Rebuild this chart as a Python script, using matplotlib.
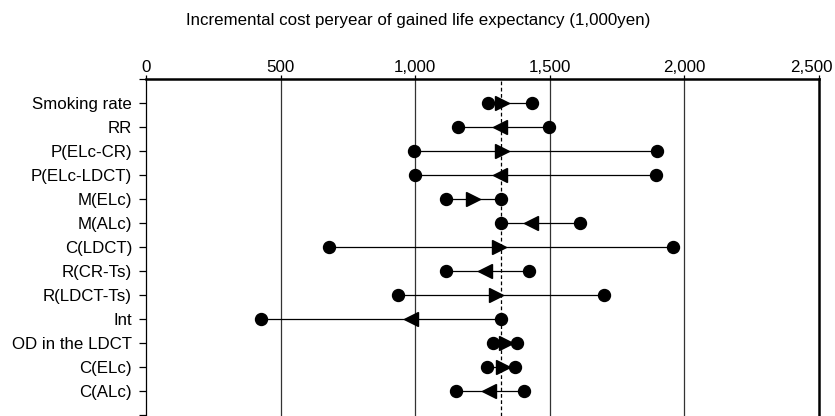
import matplotlib
matplotlib.use("Agg")
import matplotlib.pyplot as plt
import matplotlib.transforms as mtransforms
from matplotlib.ticker import FuncFormatter

plt.rcParams['font.family'] = ['Liberation Sans', 'DejaVu Sans']

labels = ["Smoking rate", "RR", "P(ELc-CR)", "P(ELc-LDCT)", "M(ELc)", "M(ALc)",
          "C(LDCT)", "R(CR-Ts)", "R(LDCT-Ts)", "Int", "OD in the LDCT",
          "C(ELc)", "C(ALc)"]
low = [1271, 1160, 996, 998, 1114, 1319, 681, 1114, 936, 426, 1289, 1267, 1152]
high = [1435, 1497, 1898, 1893, 1320, 1613, 1956, 1421, 1701, 1319, 1378, 1371, 1404]
arrow = [1323, 1315, 1324, 1315, 1213, 1430, 1311, 1258, 1299, 984, 1337, 1325, 1273]
arrow_dir = [">", "<", ">", "<", ">", "<", ">", "<", ">", "<", ">", ">", "<"]
base_value = 1320
x_ticks = [0, 500, 1000, 1500, 2000, 2500]

fig = plt.figure(figsize=(8.35, 4.16), dpi=100)
ax = fig.add_axes([146 / 835, 0, (819 - 146) / 835, (416 - 79) / 416])

rows = list(range(1, len(labels) + 1))

for x in x_ticks[1:-1]:
    ax.axvline(x, color="#333333", lw=0.9, zorder=1)
ax.axvline(base_value, color="black", lw=0.9, ls=(0, (3, 2)), zorder=2)

for y, lo, hi, a, d in zip(rows, low, high, arrow, arrow_dir):
    ax.plot([lo, hi], [y, y], color="black", lw=0.9, zorder=3)
    ax.plot([lo, hi], [y, y], "o", color="black", ms=8.6, zorder=4)
    ax.plot([a], [y], d, color="black", ms=10, zorder=5)

ax.set_xlim(0, 2500)
ax.set_ylim(14.04, 0)
ax.set_xticks(x_ticks)
ax.xaxis.set_major_formatter(FuncFormatter(lambda v, p: f"{int(v):,}"))
ax.xaxis.tick_top()
ax.tick_params(axis="x", length=3, width=0.9, pad=0, labelsize=12.2)
ax.set_yticks(range(0, 15))
ax.set_yticklabels([""] + labels + [""])
ax.tick_params(axis="y", length=5, width=0.9, pad=5, labelsize=12.2)

# last top label sits a little left of its tick, as in the original
last = ax.get_xticklabels()[-1]
last.set_transform(last.get_transform() + mtransforms.ScaledTranslation(-8 / 100, 0, fig.dpi_scale_trans))

ax.spines["bottom"].set_visible(False)
ax.spines["top"].set_linewidth(1.8)
ax.spines["right"].set_linewidth(1.8)
ax.spines["left"].set_linewidth(0.9)

fig.text(418 / 835, 1 - 20 / 416, "Incremental cost peryear of gained life expectancy (1,000yen)",
         ha="center", va="center", fontsize=12.2)

fig.savefig("out.png", dpi=100)
